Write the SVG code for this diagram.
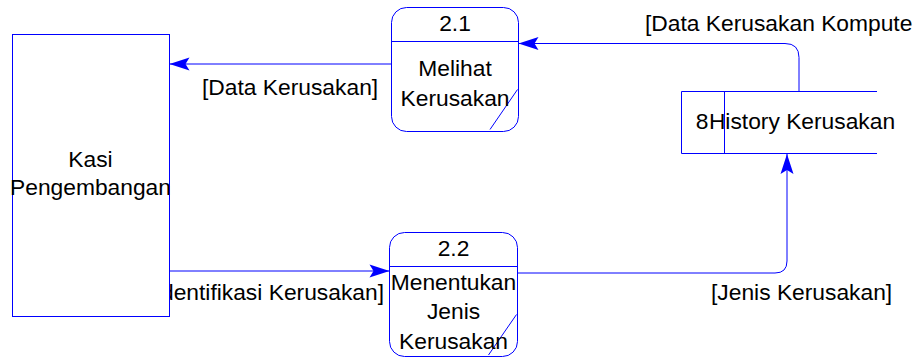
<svg xmlns="http://www.w3.org/2000/svg" width="913" height="360" viewBox="0 0 913 360">
<style>
.ln{fill:none;stroke:#0000ff;stroke-width:1}
.box{fill:#ffffff;stroke:#0000ff;stroke-width:1}
.t{font-family:"Liberation Sans",Arial,sans-serif;font-size:22.8px;fill:#000000}
.c{text-anchor:middle}
</style>
<defs>
<marker id="ah" viewBox="-21 -8 22 16" refX="0" refY="0" markerWidth="22" markerHeight="16" markerUnits="userSpaceOnUse" orient="auto" overflow="visible">
<path d="M0,0 L-20,-6.5 L-16,0 L-20,6.5 Z" fill="#0000ff"/>
</marker>
</defs>
<rect width="913" height="360" fill="#ffffff"/>
<g id="connectors">
<path class="ln" d="M391.5,64 H169.5" marker-end="url(#ah)"/>
<path class="ln" d="M799,91 V57.5 Q799,43.5 785,43.5 H518.5" marker-end="url(#ah)"/>
<path class="ln" d="M169.5,271 H389.5" marker-end="url(#ah)"/>
<path class="ln" d="M517.5,273 H775 Q787,273 787,261 V154" marker-end="url(#ah)"/>
<text class="t" x="202" y="95">[Data Kerusakan]</text>
<text class="t" x="645" y="31">[Data Kerusakan Komputer]</text>
<text class="t" x="711" y="300">[Jenis Kerusakan]</text>
<text class="t" x="384" y="300" text-anchor="end">[Identifikasi Kerusakan]</text>
</g>
<g id="kasi">
<rect class="box" x="12.5" y="34.5" width="157" height="282"/>
<text class="t c" x="90.5" y="167">Kasi</text>
<text class="t c" x="90.5" y="195">Pengembangan</text>
</g>
<g id="p21">
<rect class="box" x="391.5" y="7.5" width="127" height="124" rx="15"/>
<path class="ln" d="M391.5,41.5 H518.5 M490,129.5 L517.5,89.5"/>
<text class="t c" x="455" y="31">2.1</text>
<text class="t c" x="455" y="76">Melihat</text>
<text class="t c" x="455" y="106">Kerusakan</text>
</g>
<g id="p22">
<rect class="box" x="389.5" y="232.5" width="128" height="124" rx="15"/>
<path class="ln" d="M389.5,266.5 H517.5 M488.5,355 L516.5,314.5"/>
<text class="t c" x="453.5" y="256">2.2</text>
<text class="t c" x="453.5" y="290">Menentukan</text>
<text class="t c" x="453.5" y="319">Jenis</text>
<text class="t c" x="453.5" y="349">Kerusakan</text>
</g>
<g id="store8">
<path class="ln" d="M877,91.5 H681.5 V153.5 H877 M724.5,91.5 V153.5"/>
<text class="t c" x="702" y="129">8</text>
<text class="t c" x="802" y="129">History Kerusakan</text>
</g>
</svg>
